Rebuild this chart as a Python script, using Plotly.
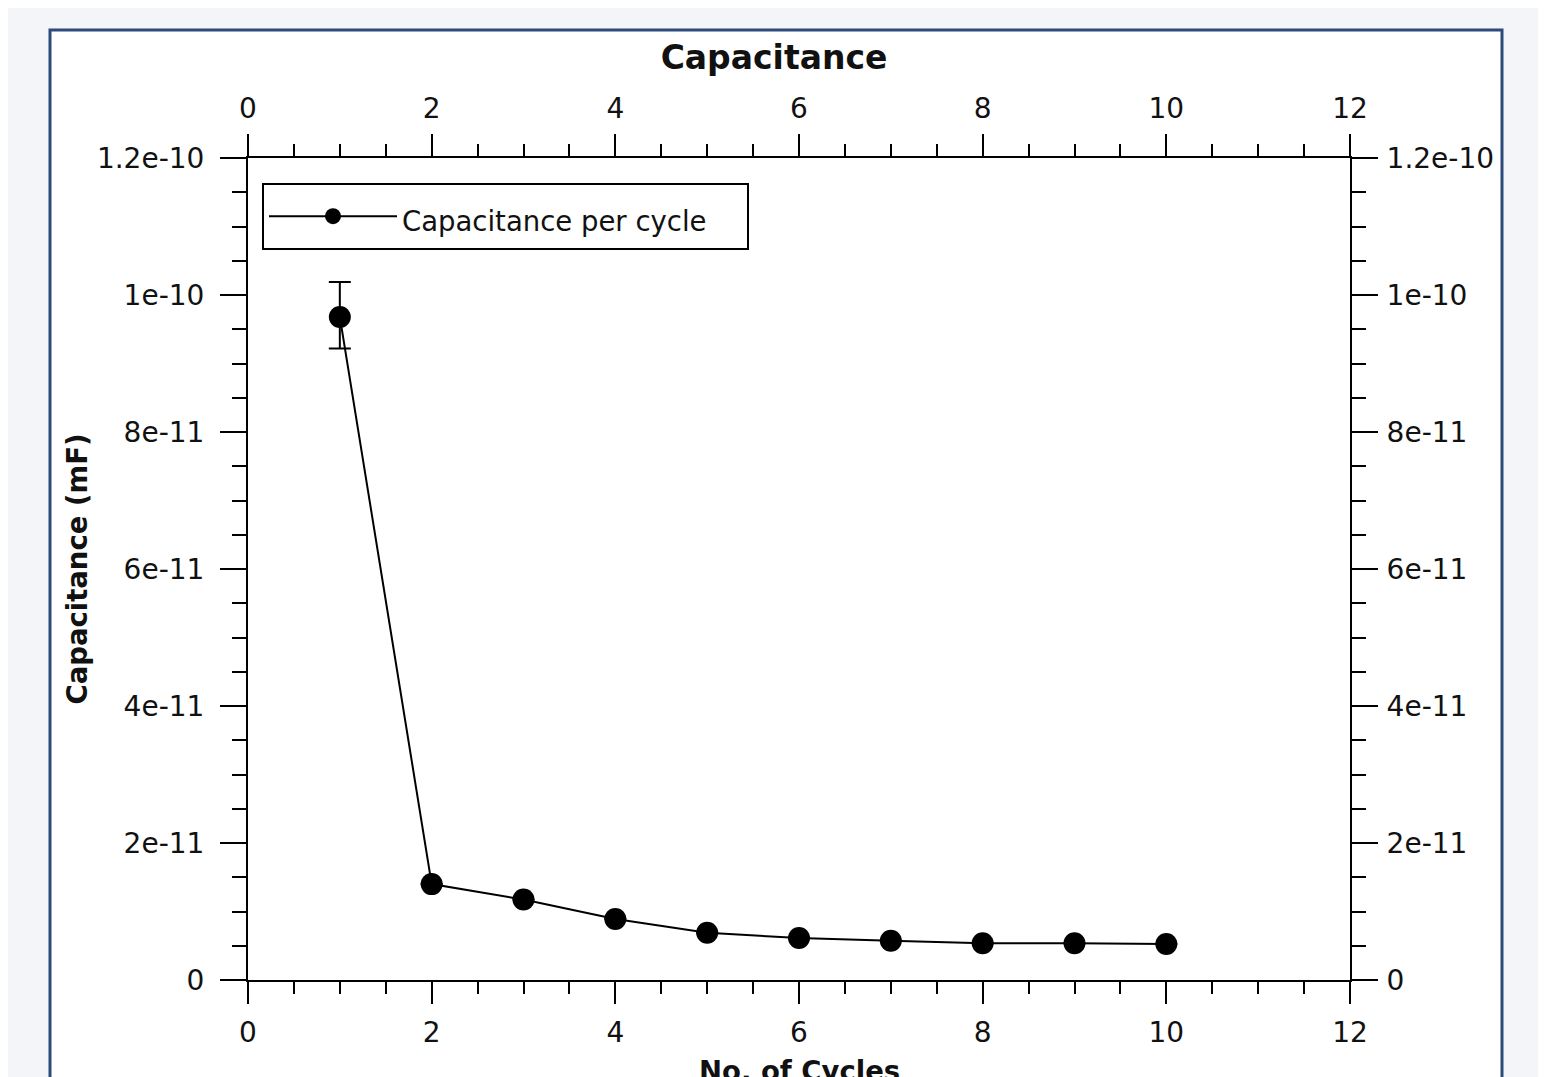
import plotly.graph_objects as go

# ---- data ----
cycles = [1, 2, 3, 4, 5, 6, 7, 8, 9, 10]
capacitance = [9.68e-11, 1.40e-11, 1.175e-11, 8.9e-12, 6.9e-12, 6.13e-12, 5.74e-12, 5.36e-12, 5.36e-12, 5.26e-12]
err_plus = [5.1e-12, None, None, None, None, None, None, None, None, None]
err_minus = [4.6e-12, None, None, None, None, None, None, None, None, None]

x_tickvals = [0, 2, 4, 6, 8, 10, 12]
y_tickvals = [0, 2e-11, 4e-11, 6e-11, 8e-11, 1e-10, 1.2e-10]
y_ticktext = ["0", "2e-11", "4e-11", "6e-11", "8e-11", "1e-10", "1.2e-10"]

series_name = "Capacitance per cycle"
title_text = "Capacitance"
x_title = "No. of Cycles"
y_title = "Capacitance (mF)"

FONT = "DejaVu Sans"
TXT = "#111111"
TICKFONT = dict(family=FONT, size=28, color=TXT)

# page body adds an 8px offset; figure is sized to fill the rest of the window
OFF = 8
W, H = 1546 - OFF, 1077 - OFF
L, T = 248 - OFF, 158 - OFF
PW, PH = 1102, 822
R, B = W - L - PW, H - T - PH

NBSP = "\u00a0"
legend_label = '<span style="font-size:27.5px">' + series_name + NBSP * 4 + "</span>"

fig = go.Figure()
fig.add_trace(go.Scatter(
    x=cycles, y=capacitance, name=legend_label,
    mode="lines+markers",
    line=dict(color="black", width=2),
    marker=dict(color="black", size=22, symbol="circle"),
    error_y=dict(type="data", symmetric=False, array=err_plus, arrayminus=err_minus,
                 color="black", thickness=2, width=11),
    showlegend=True,
))
# invisible companion trace so that the top and right mirror axes are drawn
fig.add_trace(go.Scatter(
    x=cycles, y=capacitance, xaxis="x2", yaxis="y2", mode="markers",
    marker=dict(opacity=0, size=1), showlegend=False, hoverinfo="skip",
))

def x_axis(standoff):
    return dict(
        range=[0, 12], tickmode="array", tickvals=x_tickvals,
        ticks="outside", ticklen=22, tickwidth=2, tickcolor="black",
        showline=True, linecolor="black", linewidth=2,
        showgrid=False, zeroline=False, tickfont=TICKFONT,
        ticklabelstandoff=standoff, automargin=False,
        minor=dict(tickmode="linear", tick0=0, dtick=0.5, ticks="outside", ticklen=12,
                   tickwidth=2, tickcolor="black", showgrid=False),
    )

def y_axis(standoff):
    return dict(
        range=[0, 1.2e-10], tickmode="array", tickvals=y_tickvals, ticktext=y_ticktext,
        ticks="outside", ticklen=26, tickwidth=2, tickcolor="black",
        showline=True, linecolor="black", linewidth=2,
        showgrid=False, zeroline=False, tickfont=TICKFONT,
        ticklabelstandoff=standoff, automargin=False,
        minor=dict(tickmode="linear", tick0=0, dtick=5e-12, ticks="outside", ticklen=14,
                   tickwidth=2, tickcolor="black", showgrid=False),
    )

fig.update_layout(
    width=W, height=H,
    margin=dict(l=L, r=R, t=T, b=B, autoexpand=False),
    paper_bgcolor="#f3f5f9",
    plot_bgcolor="white",
    font=dict(family=FONT, color=TXT),
    title=dict(text=title_text, x=(774 - 248) / PW, xref="paper", xanchor="center",
               y=1 - (57 - OFF) / H, yref="container", yanchor="middle",
               font=dict(family=FONT, size=33, weight="bold", color=TXT)),
    xaxis=dict(**x_axis(4), side="bottom", anchor="y"),
    xaxis2=dict(**x_axis(5), side="top", overlaying="x", anchor="y2"),
    yaxis=dict(**y_axis(10), side="left", anchor="x",
               title=dict(text=y_title, standoff=1,
                          font=dict(family=FONT, size=27.5, weight="bold", color=TXT))),
    yaxis2=dict(**y_axis(3), side="right", overlaying="y", anchor="x2"),
    legend=dict(x=(262 - 248) / PW, y=(980 - 183) / PH, xanchor="left", yanchor="top",
                bgcolor="white", bordercolor="black", borderwidth=2,
                font=dict(family=FONT, size=38, color=TXT), itemwidth=128),
    annotations=[dict(text=x_title, xref="paper", yref="paper", x=0.5, y=(980 - 1071) / PH,
                      xanchor="center", yanchor="middle", showarrow=False,
                      font=dict(family=FONT, size=27.5, weight="bold", color=TXT))],
    shapes=[dict(type="rect", xref="paper", yref="paper", layer="below",
                 x0=(50 - 248) / PW, x1=(1502 - 248) / PW,
                 y0=-0.2, y1=(980 - 30) / PH,
                 fillcolor="white", line=dict(color="#2c4a7a", width=3))],
)

fig.write_html("out.html")
